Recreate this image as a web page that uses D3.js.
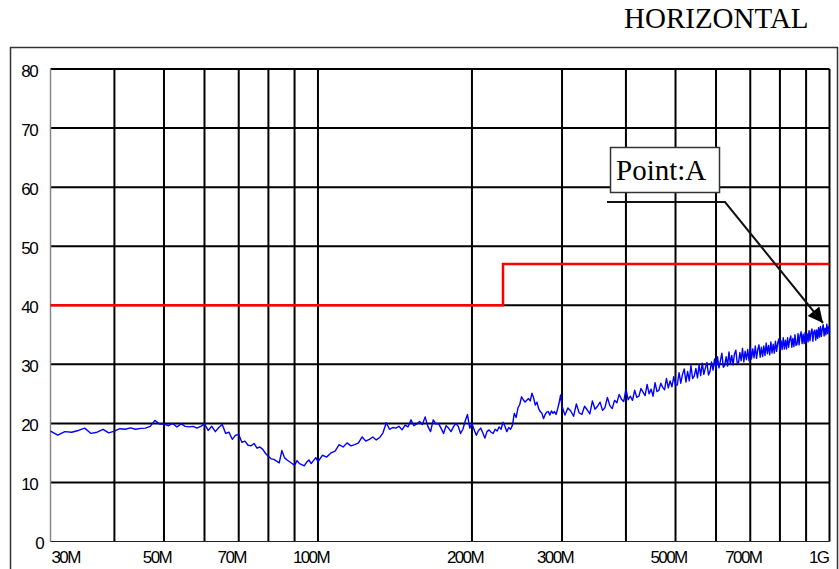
<!DOCTYPE html>
<html>
<head>
<meta charset="utf-8">
<script src="https://cdn.jsdelivr.net/npm/d3@7"></script>
<style>
  html, body { margin: 0; padding: 0; background: #fff; }
  svg { display: block; }
  .num { font-family: "Liberation Sans", Arial, sans-serif; font-size: 17px; letter-spacing: -1.6px; fill: #000; }
  .serif { font-family: "Liberation Serif", "Times New Roman", serif; font-size: 29px; fill: #000; }
</style>
</head>
<body>
<svg id="chart" width="839" height="569"></svg>
<script>
// Axis ticks
const levelTicks = [0, 10, 20, 30, 40, 50, 60, 70, 80];
const freqGrid = [30, 40, 50, 60, 70, 80, 90, 100, 200, 300, 400, 500, 600, 700, 800, 900, 1000];
const freqLabelValues = [30, 50, 70, 100, 200, 300, 500, 700, 1000];
const freqLabels = ["30M", "50M", "70M", "100M", "200M", "300M", "500M", "700M", "1G"];

// Limit line (MHz, dBuV/m)
const limitFreq = [30, 230, 230, 1000];
const limitLevel = [40, 40, 47, 47];

// Measured sweep: three ranges, each with its own start and step (MHz)
const sweepStart = [30, 102, 304];
const sweepStep = [1, 2, 4];

const levelsA = [
  18.7, 18.0, 18.6, 18.5, 18.8, 19.2, 18.3, 18.5, 19.0, 18.4,
  18.7, 19.1, 19.0, 19.25, 19.0, 19.15, 19.2, 19.5, 20.5, 19.9,
  19.9, 19.6, 20.0, 19.4, 19.9, 19.5, 19.4, 19.5, 19.2, 19.5,
  19.9, 18.8, 19.5, 18.6, 19.3, 19.8, 18.3, 18.5, 17.3, 18.0,
  18.1, 16.8, 17.0, 16.3, 16.2, 16.6, 15.8, 16.0, 15.6, 14.9,
  14.4, 14.0, 13.9, 13.6, 13.3, 15.4, 14.2, 13.8, 13.5, 13.2,
  12.9, 13.7, 13.2, 13.0, 12.8, 13.4, 13.8, 13.2, 13.7, 14.2,
  13.5
];

const levelsB = [
  14.6, 14.3, 15.0, 15.3, 16.4, 16.0, 16.7, 16.2, 16.4, 16.7,
  17.7, 17.0, 17.3, 17.7, 17.2, 17.6, 18.4, 20.1, 19.0, 19.3,
  19.2, 19.5, 18.9, 19.7, 19.4, 20.6, 19.6, 19.9, 20.3, 19.8,
  21.1, 19.5, 18.6, 20.6, 19.9, 20.0, 19.2, 18.3, 19.6, 19.2,
  18.6, 19.4, 20.0, 19.5, 18.3, 19.0, 20.4, 21.5, 19.2, 20.0,
  18.9, 18.0, 18.8, 19.2, 18.4, 17.5, 18.6, 18.9, 18.5, 18.3,
  19.0, 18.7, 19.4, 19.0, 20.2, 19.5, 18.6, 19.3, 19.0, 19.7,
  21.7, 21.0, 22.6, 23.2, 24.5, 24.0, 23.6, 23.9, 24.2, 23.8,
  25.1, 24.3, 23.1, 23.6, 22.5, 22.0, 21.7, 20.8, 21.5, 21.9,
  22.0, 21.4, 22.1, 21.7, 22.0, 21.5, 22.4, 23.4, 24.8, 22.9
];

const levelsC = [
  21.4, 22.6, 22.1, 21.2, 23.3, 21.8, 21.5, 22.9, 22.3, 21.6,
  23.8, 22.4, 22.9, 23.6, 22.2, 22.7, 24.4, 23.0, 22.5, 23.9,
  23.5, 24.9, 24.1, 23.7, 25.8, 24.0, 24.6, 23.9, 25.6, 24.4,
  24.6, 25.9, 25.3, 24.7, 26.6, 25.0, 25.8, 24.6, 26.9, 25.4,
  25.6, 26.8, 26.1, 25.7, 27.6, 26.0, 27.2, 26.2, 27.9, 26.5,
  26.5, 28.6, 26.8, 28.3, 29.2, 27.0, 28.8, 27.2, 29.8, 27.6,
  28.0, 29.3, 27.7, 29.9, 28.1, 30.2, 28.3, 29.4, 30.3, 28.2,
  28.8, 30.4, 29.0, 30.9, 29.1, 31.3, 29.4, 30.6, 31.9, 29.5,
  29.8, 31.3, 29.7, 32.1, 30.0, 31.5, 29.9, 31.8, 32.4, 30.2,
  30.3, 32.0, 30.6, 32.7, 30.4, 32.2, 30.8, 32.5, 30.6, 33.0,
  30.9, 32.6, 31.1, 33.1, 31.0, 32.5, 33.3, 31.2, 32.9, 31.3,
  33.1, 31.5, 33.6, 31.8, 33.2, 31.6, 33.8, 31.9, 33.4, 31.9,
  33.9, 32.2, 33.6, 34.3, 32.3, 34.0, 32.5, 34.5, 32.6, 34.1,
  32.6, 34.5, 32.9, 34.2, 34.8, 32.9, 34.4, 33.0, 35.0, 33.2,
  33.4, 35.2, 33.3, 34.9, 35.5, 33.5, 35.1, 33.5, 35.4, 33.8,
  35.2, 33.8, 35.7, 34.0, 35.4, 36.0, 33.9, 35.5, 35.8, 34.1,
  35.8, 34.4, 36.2, 34.6, 36.4, 34.7, 36.0, 36.7, 34.8, 36.1,
  35.0, 36.8, 35.2, 36.4, 35.4
];

// Assemble the sweep points (frequency in MHz, level)
const sweep = [];
[levelsA, levelsB, levelsC].forEach((levels, k) => {
  levels.forEach((v, i) => sweep.push({ f: sweepStart[k] + i * sweepStep[k], v }));
});

const svg = d3.select("#chart");
const x = d3.scaleLog().domain([30, 1000]).range([50.5, 829.5]);
const y = d3.scaleLinear().domain([0, 80]).range([541.5, 69]);

// Title
svg.append("text").attr("class", "serif").attr("x", 624).attr("y", 28).text("HORIZONTAL");

// Outer frame
svg.append("rect")
  .attr("x", 10.5).attr("y", 47.5).attr("width", 827).attr("height", 560)
  .attr("fill", "none").attr("stroke", "#333").attr("stroke-width", 1.5);

// Horizontal grid
svg.append("g").selectAll("line")
  .data(levelTicks.filter(d => d > 0))
  .join("line")
  .attr("x1", x(30)).attr("x2", x(1000))
  .attr("y1", d => y(d)).attr("y2", d => y(d))
  .attr("stroke", "#000").attr("stroke-width", 2);

// Vertical grid
svg.append("g").selectAll("line")
  .data(freqGrid)
  .join("line")
  .attr("x1", d => x(d)).attr("x2", d => x(d))
  .attr("y1", y(80)).attr("y2", y(0))
  .attr("stroke", d => d === 30 ? "#888" : "#000")
  .attr("stroke-width", d => d === 30 ? 1.5 : 2);

// Baseline
svg.append("line")
  .attr("x1", x(30)).attr("x2", x(1000))
  .attr("y1", y(0)).attr("y2", y(0))
  .attr("stroke", "#222").attr("stroke-width", 1.2);

// Level labels
svg.append("g").selectAll("text")
  .data(levelTicks)
  .join("text")
  .attr("class", "num")
  .attr("text-anchor", "end")
  .attr("dominant-baseline", "central")
  .attr("x", d => d === 0 ? 43 : 37)
  .attr("y", d => y(d) + 2)
  .text(d => d);

// Frequency labels
svg.append("g").selectAll("text")
  .data(freqLabelValues)
  .join("text")
  .attr("class", "num")
  .attr("text-anchor", (d, i) => i === 0 ? "start" : (d === 1000 ? "end" : "middle"))
  .attr("x", d => d === 30 ? x(d) + 1 : (d === 1000 ? x(d) - 1 : x(d) - 7))
  .attr("y", 563)
  .text((d, i) => freqLabels[i]);

// Limit line
const limitPts = limitFreq.map((f, i) => [x(f), y(limitLevel[i])]);
svg.append("path")
  .attr("d", d3.line()(limitPts))
  .attr("fill", "none").attr("stroke", "#ff0000").attr("stroke-width", 2.5);

// Measured trace
svg.append("path")
  .datum(sweep)
  .attr("d", d3.line().x(d => x(d.f)).y(d => y(d.v)))
  .attr("fill", "none").attr("stroke", "#0000ff").attr("stroke-width", 1.4)
  .attr("stroke-linejoin", "round");

// Marker callout
const defs = svg.append("defs");
defs.append("marker")
  .attr("id", "arrowHead")
  .attr("viewBox", "0 0 10 10")
  .attr("refX", 10).attr("refY", 5)
  .attr("markerUnits", "userSpaceOnUse")
  .attr("markerWidth", 19).attr("markerHeight", 15)
  .attr("orient", "auto")
  .append("path").attr("d", "M0,0 L10,5 L0,10 Z").attr("fill", "#000");

svg.append("path")
  .attr("d", d3.line()([[607, 202], [725, 202], [823, 323]]))
  .attr("fill", "none").attr("stroke", "#111").attr("stroke-width", 2)
  .attr("marker-end", "url(#arrowHead)");

svg.append("rect")
  .attr("x", 610.5).attr("y", 147.5).attr("width", 109).attr("height", 45)
  .attr("fill", "#fff").attr("stroke", "#333").attr("stroke-width", 1.5);
svg.append("text").attr("class", "serif").attr("x", 616).attr("y", 180).text("Point:A");
</script>
</body>
</html>
